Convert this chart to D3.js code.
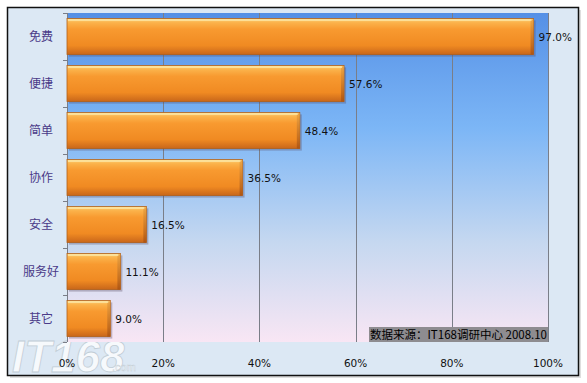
<!DOCTYPE html>
<html><head><meta charset="utf-8">
<script src="https://cdn.jsdelivr.net/npm/d3@7"></script>
<style>body{margin:0;background:#fff;}svg{display:block;}</style>
</head><body>
<script>
const categories = ["免费","便捷","简单","协作","安全","服务好","其它"];
const values = [97.0, 57.6, 48.4, 36.5, 16.5, 11.1, 9.0];
const tickValues = [0, 20, 40, 60, 80, 100];
const sourceText = "数据来源：IT168调研中心 2008.10";

const W = 587, H = 383;
const svg = d3.select("body").append("svg").attr("width", W).attr("height", H);
const defs = svg.append("defs");

const bgG = defs.append("linearGradient").attr("id","plotbg").attr("x1",0).attr("y1",0).attr("x2",0).attr("y2",1);
bgG.append("stop").attr("offset","0%").attr("stop-color","#5590e6");
bgG.append("stop").attr("offset","35%").attr("stop-color","#7cb6f6");
bgG.append("stop").attr("offset","70%").attr("stop-color","#c6d8f0");
bgG.append("stop").attr("offset","100%").attr("stop-color","#f8e6f4");

const barG = defs.append("linearGradient").attr("id","bar").attr("x1",0).attr("y1",0).attr("x2",0).attr("y2",1);
barG.append("stop").attr("offset","0%").attr("stop-color","#fbd27a");
barG.append("stop").attr("offset","12%").attr("stop-color","#fbb24a");
barG.append("stop").attr("offset","30%").attr("stop-color","#f89a30");
barG.append("stop").attr("offset","75%").attr("stop-color","#f08a22");
barG.append("stop").attr("offset","100%").attr("stop-color","#c8661a");

const endG = defs.append("linearGradient").attr("id","barend").attr("x1",0).attr("y1",0).attr("x2",0).attr("y2",1);
endG.append("stop").attr("offset","0%").attr("stop-color","#e8a040");
endG.append("stop").attr("offset","100%").attr("stop-color","#a85010");

// outer background + border
svg.append("rect").attr("x",10).attr("y",10).attr("width",571).attr("height",368).attr("fill","#c8c8c8").attr("opacity",0.6);
svg.append("rect").attr("x",7.5).attr("y",7.5).attr("width",571).attr("height",368)
  .attr("fill","#dce8f4").attr("stroke","#111").attr("stroke-width",1.5);

const m = {left:67, right:548, top:13, bottom:342};
const x = d3.scaleLinear().domain([0,100]).range([m.left, m.right]);
const y = d3.scaleBand().domain(categories).range([m.top, m.bottom]).paddingInner(0.23).paddingOuter(0.115);

// watermark
svg.append("text").attr("x",12).attr("y",372).attr("font-family","Liberation Sans, Arial").attr("font-style","italic")
  .attr("font-weight","bold").attr("font-size",44).attr("fill","#ffffff").attr("opacity",0.75)
  .attr("stroke","#b8c4cc").attr("stroke-width",0.8).text("IT168");
svg.append("text").attr("x",112).attr("y",371).attr("font-family","Liberation Sans, Arial")
  .attr("font-size",11).attr("fill","#ffffff").attr("opacity",0.8).attr("stroke","#b8c4cc").attr("stroke-width",0.4).text(".com");

// plot area
svg.append("rect").attr("x",m.left).attr("y",m.top).attr("width",m.right-m.left).attr("height",m.bottom-m.top)
  .attr("fill","url(#plotbg)");

// gridlines
svg.append("g").selectAll("line").data(tickValues.filter(d=>d>0)).join("line")
  .attr("x1",d=>Math.round(x(d))+0.5).attr("x2",d=>Math.round(x(d))+0.5)
  .attr("y1",m.top).attr("y2",m.bottom).attr("stroke","#7a7e88").attr("stroke-width",1);

// left axis line with ticks at band boundaries
const axisG = svg.append("g");
axisG.append("line").attr("x1",m.left+0.5).attr("x2",m.left+0.5).attr("y1",m.top).attr("y2",m.bottom)
  .attr("stroke","#7a7e88");
const step = y.step();
const bounds = d3.range(categories.length+1).map(i => m.top + (m.bottom-m.top)*i/categories.length);
axisG.selectAll("line.t").data(bounds).join("line").attr("class","t")
  .attr("x1",m.left-4).attr("x2",m.left).attr("y1",d=>Math.round(d)+0.5).attr("y2",d=>Math.round(d)+0.5)
  .attr("stroke","#7a7e88");

// bars
const bars = svg.append("g").selectAll("g").data(categories).join("g");
bars.append("rect").attr("x",x(0)+2).attr("y",d=>y(d)+2)
  .attr("width",(d,i)=>x(values[i])-x(0)).attr("height",y.bandwidth())
  .attr("fill","#5a4a60").attr("opacity",0.35);
bars.append("rect").attr("x",x(0)).attr("y",d=>y(d))
  .attr("width",(d,i)=>x(values[i])-x(0)).attr("height",y.bandwidth())
  .attr("fill","url(#bar)").attr("stroke","#b0601c").attr("stroke-width",0.8);
bars.append("rect").attr("x",(d,i)=>x(values[i])-3).attr("y",d=>y(d)+1)
  .attr("width",3).attr("height",y.bandwidth()-1).attr("fill","url(#barend)").attr("opacity",0.8);
bars.append("line").attr("x1",x(0)+1).attr("x2",(d,i)=>x(values[i])-2)
  .attr("y1",d=>y(d)+1.5).attr("y2",d=>y(d)+1.5).attr("stroke","#fde8a8").attr("stroke-width",1.5);

// value labels
svg.append("g").selectAll("text").data(categories).join("text")
  .attr("x",(d,i)=>x(values[i])+5).attr("y",d=>y(d)+y.bandwidth()/2+4)
  .attr("font-family","DejaVu Sans, Verdana").attr("font-size",10.5).attr("fill","#111")
  .text((d,i)=>values[i].toFixed(1)+"%");

// category labels
svg.append("g").selectAll("text").data(categories).join("text")
  .attr("x",41).attr("y",d=>y(d)+y.bandwidth()/2+4.5).attr("text-anchor","middle")
  .attr("font-family","Noto Sans CJK SC").attr("font-size",12).attr("fill","#4a3a88")
  .text(d=>d);

// x tick labels
svg.append("g").selectAll("text").data(tickValues).join("text")
  .attr("x",d=>x(d)).attr("y",367).attr("text-anchor","middle")
  .attr("font-family","DejaVu Sans, Verdana").attr("font-size",10.5).attr("fill","#111")
  .text(d=>d+"%");

// source box
svg.append("rect").attr("x",369).attr("y",327).attr("width",179).attr("height",15).attr("fill","#8e8c90");
svg.append("text").attr("x",370).attr("y",339).attr("font-family","Noto Sans CJK SC").attr("font-size",11.5)
  .attr("fill","#000").attr("textLength",177).attr("lengthAdjust","spacingAndGlyphs").text(sourceText);
</script>
</body></html>
